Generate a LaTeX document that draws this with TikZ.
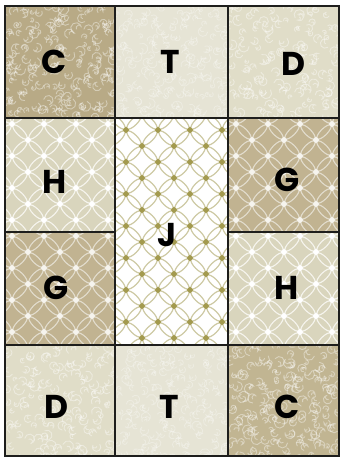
\documentclass[tikz,border=0pt]{standalone}
\usepackage{fontspec}
\newfontfamily\lblfont{Poppins}
\definecolor{tanC}{HTML}{B8AA86}
\definecolor{tanCb}{HTML}{C1B592}
\definecolor{creamT}{HTML}{E6E4D5}
\definecolor{creamD}{HTML}{E0DDC8}
\definecolor{creamH}{HTML}{D9D5BD}
\definecolor{tanG}{HTML}{C1B391}
\definecolor{olive}{HTML}{A39A4E}
\definecolor{oliveL}{HTML}{CDC9A3}
\definecolor{seam}{HTML}{1E1E1C}
\newcommand\swirls[8]{% x0 y0 x1 y1 step color opacity width
  \begin{scope}
    \clip (#1,#2) rectangle (#3,#4);
    \foreach \gx in {0,...,12}{\foreach \gy in {0,...,12}{
      \pgfmathsetmacro\px{#1+\gx*#5+rnd*#5}
      \pgfmathsetmacro\py{#2+\gy*#5+rnd*#5}
      \pgfmathsetmacro\sa{rnd*360}
      \pgfmathsetmacro\rr{2+rnd*3.5}
      \pgfmathsetmacro\rb{\rr/2}
      \pgfmathsetmacro\sb{\sa+250}
      \draw[#6, opacity=#7, line width=#8, line cap=round]
        (\px,\py) arc[start angle=\sa, delta angle=250, radius=\rr]
        arc[start angle=\sb, delta angle=-200, radius=\rb];
    }}
  \end{scope}}
\newcommand\lattice[9]{% x0 y0 x1 y1 ox oy ringcolor dotcolor ringwidth
  \begin{scope}
    \clip (#1,#2) rectangle (#3,#4);
    \foreach \m in {-2,...,8}{\foreach \n in {-2,...,16}{
      \pgfmathtruncatemacro\s{\m+\n+100}
      \ifodd\s\else
        \pgfmathsetmacro\cx{#5+16*\m}
        \pgfmathsetmacro\cy{#6+16*\n}
        \pgfmathsetmacro\ax{\cx+8}
        \pgfmathsetmacro\ay{\cy+8}
        \pgfmathsetmacro\by{\cy-8}
        \draw[#7, line width=#9, rotate around={-45:(\ax,\ay)}]
          (\ax,\ay) ellipse[x radius=9.5, y radius=3.3];
        \draw[#7, line width=#9, rotate around={45:(\ax,\by)}]
          (\ax,\by) ellipse[x radius=9.5, y radius=3.3];
      \fi}}
    \foreach \m in {-2,...,8}{\foreach \n in {-2,...,16}{
      \pgfmathtruncatemacro\s{\m+\n+100}
      \ifodd\s\else
        \pgfmathsetmacro\cx{#5+16*\m}
        \pgfmathsetmacro\cy{#6+16*\n}
        \fill[#8, rotate around={45:(\cx,\cy)}] (\cx-2.4,\cy-2.4) rectangle (\cx+2.4,\cy+2.4);
      \fi}}
  \end{scope}}
\tikzset{
  letter/.style={font=\lblfont\bfseries\fontsize{33}{33}\selectfont, text=black, inner sep=0pt},
  seamline/.style={draw=seam, line width=2pt}
}
\begin{document}
\begin{tikzpicture}[x=1pt,y=-1pt]
  \pgfmathsetseed{11}
  \useasboundingbox (0,0) rectangle (342,458);
  \fill[white] (0,0) rectangle (342,458);
  % top row
  \fill[tanC] (5,6) rectangle (115,118);
  \swirls{5}{6}{115}{118}{9}{white}{0.4}{0.9pt}
  \fill[creamT] (115,6) rectangle (228,118);
  \swirls{115}{6}{228}{118}{9}{white}{0.3}{0.8pt}
  \fill[creamD] (228,6) rectangle (339,118);
  \swirls{228}{6}{339}{118}{10}{white}{0.4}{0.9pt}
  % middle
  \fill[creamH] (5,118) rectangle (115,232);
  \lattice{5}{118}{115}{232}{12}{124}{white!75!creamH}{white}{1.1pt}
  \fill[tanG] (5,232) rectangle (115,345);
  \lattice{5}{232}{115}{345}{12}{236}{white!55!tanG}{white!85!tanG}{1.1pt}
  \fill[white] (115,118) rectangle (228,345);
  \lattice{115}{118}{228}{345}{126}{130}{oliveL}{olive}{1.2pt}
  \fill[tanG] (228,118) rectangle (339,232);
  \lattice{228}{118}{339}{232}{236}{124}{white!55!tanG}{white!85!tanG}{1.1pt}
  \fill[creamH] (228,232) rectangle (339,345);
  \lattice{228}{232}{339}{345}{236}{236}{white!75!creamH}{white}{1.1pt}
  % bottom row
  \fill[creamD] (5,345) rectangle (115,456);
  \swirls{5}{345}{115}{456}{10}{white}{0.4}{0.9pt}
  \fill[creamT] (115,345) rectangle (228,456);
  \swirls{115}{345}{228}{456}{9}{white}{0.3}{0.8pt}
  \fill[tanCb] (228,345) rectangle (339,456);
  \swirls{228}{345}{339}{456}{9}{white}{0.4}{0.9pt}
  % seams
  \draw[seamline] (5,6) rectangle (339,456);
  \draw[seamline] (115,6) -- (115,456);
  \draw[seamline] (228,6) -- (228,456);
  \draw[seamline] (5,118) -- (339,118);
  \draw[seamline] (5,345) -- (339,345);
  \draw[seamline] (5,232) -- (115,232);
  \draw[seamline] (228,232) -- (339,232);
  % labels
  \node[letter] (c1) at (54,62) {C};
  \node[letter] (t1) at (170,62) {T};
  \node[letter] (d1) at (293,64) {D};
  \node[letter] (h1) at (55,182) {H};
  \node[letter] (j)  at (167,235) {J};
  \node[letter] (g1) at (287,180) {G};
  \node[letter] (g2) at (56,288) {G};
  \node[letter] (h2) at (287,288) {H};
  \node[letter] (d2) at (56,407) {D};
  \node[letter] (t2) at (169,407) {T};
  \node[letter] (c2) at (287,407) {C};
\end{tikzpicture}
\end{document}
